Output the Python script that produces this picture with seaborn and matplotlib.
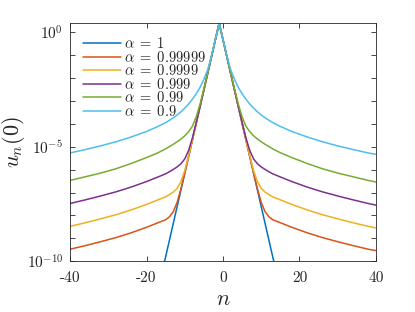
import numpy as np
import pandas as pd
import matplotlib
matplotlib.use('Agg')
import matplotlib.pyplot as plt
import seaborn as sns

# lattice sites
n = [-40, -36, -32, -28, -24, -20, -17, -15, -14, -13, -12, -11, -10, -9, -8, -7, -6, -5, -4, -3, -2,
     -1,
     0, 1, 2, 3, 4, 5, 6, 7, 8, 9, 10, 11, 12, 13, 15, 18, 22, 26, 30, 34, 38, 40]

# log10 of u_n(0)
logu_a1 = [-28.1, -25.1, -22.2, -19.3, -16.38, -13.46, -11.27, -9.81, -9.08, -8.35, -7.62, -6.89, -6.16, -5.43, -4.70, -3.97, -3.24, -2.51, -1.78, -1.05, -0.32,
           0.41,
           -0.32, -1.05, -1.78, -2.51, -3.24, -3.97, -4.70, -5.43, -6.16, -6.89, -7.62, -8.35, -9.08, -9.81, -11.27, -13.46, -16.38, -19.3, -22.2, -25.1, -28.1, -29.5]
logu_a99999 = [-9.48, -9.32, -9.15, -8.97, -8.76, -8.52, -8.32, -8.19, -8.06, -7.84, -7.43, -6.84, -6.16, -5.43, -4.70, -3.97, -3.24, -2.51, -1.78, -1.05, -0.32,
               0.41,
               -0.32, -1.05, -1.78, -2.51, -3.24, -3.97, -4.70, -5.43, -6.16, -6.84, -7.43, -7.84, -8.06, -8.19, -8.32, -8.52, -8.76, -8.97, -9.15, -9.32, -9.48, -9.54]
logu_a9999 = [-8.48, -8.32, -8.15, -7.97, -7.76, -7.52, -7.32, -7.19, -7.09, -6.98, -6.82, -6.52, -6.04, -5.39, -4.69, -3.97, -3.24, -2.51, -1.78, -1.05, -0.32,
              0.41,
              -0.32, -1.05, -1.78, -2.51, -3.24, -3.97, -4.69, -5.39, -6.04, -6.52, -6.82, -6.98, -7.09, -7.19, -7.32, -7.52, -7.76, -7.97, -8.15, -8.32, -8.48, -8.55]
logu_a999 = [-7.48, -7.32, -7.15, -6.97, -6.76, -6.52, -6.32, -6.18, -6.09, -5.99, -5.88, -5.74, -5.53, -5.16, -4.61, -3.94, -3.23, -2.51, -1.78, -1.05, -0.32,
             0.41,
             -0.32, -1.05, -1.78, -2.51, -3.23, -3.94, -4.61, -5.16, -5.53, -5.74, -5.88, -5.99, -6.09, -6.18, -6.32, -6.52, -6.76, -6.97, -7.15, -7.32, -7.48, -7.55]
logu_a99 = [-6.47, -6.31, -6.15, -5.96, -5.73, -5.47, -5.26, -5.09, -4.99, -4.89, -4.78, -4.66, -4.52, -4.34, -4.10, -3.69, -3.13, -2.47, -1.77, -1.05, -0.32,
            0.41,
            -0.32, -1.05, -1.77, -2.47, -3.13, -3.69, -4.10, -4.34, -4.52, -4.66, -4.78, -4.89, -4.99, -5.09, -5.26, -5.47, -5.73, -5.96, -6.15, -6.31, -6.47, -6.54]
logu_a9 = [-5.27, -5.12, -4.96, -4.78, -4.57, -4.33, -4.11, -3.94, -3.84, -3.73, -3.61, -3.47, -3.31, -3.13, -2.92, -2.68, -2.40, -2.05, -1.62, -1.02, -0.32,
           0.41,
           -0.32, -1.02, -1.62, -2.05, -2.40, -2.68, -2.92, -3.13, -3.31, -3.47, -3.61, -3.73, -3.84, -3.94, -4.11, -4.33, -4.57, -4.78, -4.96, -5.12, -5.27, -5.33]

labels = [r'$\alpha\;=\;1$', r'$\alpha\;=\;0.99999$', r'$\alpha\;=\;0.9999$',
          r'$\alpha\;=\;0.999$', r'$\alpha\;=\;0.99$', r'$\alpha\;=\;0.9$']
series = [logu_a1, logu_a99999, logu_a9999, logu_a999, logu_a99, logu_a9]
colors = ['#0072BD', '#D95319', '#EDB120', '#7E2F8E', '#77AC30', '#4DBEEE']

df = pd.concat([pd.DataFrame({'n': n, 'u': 10.0 ** np.array(s), 'alpha': lab})
                for s, lab in zip(series, labels)], ignore_index=True)

sns.set_style('ticks')
plt.rcParams['mathtext.fontset'] = 'cm'
plt.rcParams['axes.unicode_minus'] = False

fig = plt.figure(figsize=(4.15, 3.12), dpi=100)
ax = fig.add_axes([0.1687, 0.163, 0.7373, 0.763])

sns.lineplot(data=df, x='n', y='u', hue='alpha', hue_order=labels,
             palette=dict(zip(labels, colors)), estimator=None, sort=False,
             linewidth=1.1, legend=False, ax=ax)

ax.set_yscale('log')
ax.set_xlim(-40, 40)
ax.set_ylim(1e-10, 10 ** 0.41)

ax.set_xticks([-40, -20, 0, 20, 40])
ax.set_xticklabels(['-40', '-20', '0', '20', '40'], fontfamily='cmr10', fontsize=11)
ax.set_yticks([10.0 ** k for k in range(-10, 1)])
ylabs = ['' for k in range(-10, 1)]
ylabs[0] = r'$10^{-10}$'
ylabs[5] = r'$10^{-5}$'
ylabs[10] = r'$10^{0}$'
ax.set_yticklabels(ylabs, fontsize=11)
ax.minorticks_off()
ax.tick_params(direction='in', top=True, right=True, length=3.5, width=0.6,
               colors='#262626')
ax.tick_params(axis='x', pad=7)
ax.tick_params(axis='y', pad=5)
for sp in ax.spines.values():
    sp.set_color('#262626')
    sp.set_linewidth(0.6)

ax.set_xlabel(r'$n$', fontsize=16)
ax.xaxis.set_label_coords(0.5, -0.115)
ax.set_ylabel(r'$u_n(0)$', fontsize=16)
ax.yaxis.set_label_coords(-0.14, 0.5)

ax.legend(ax.lines, labels, loc='upper left', frameon=False, fontsize=10.5,
          handlelength=2.6, handletextpad=0.2, labelspacing=-0.1,
          borderaxespad=0.5)

plt.savefig('out.png', dpi=100)
